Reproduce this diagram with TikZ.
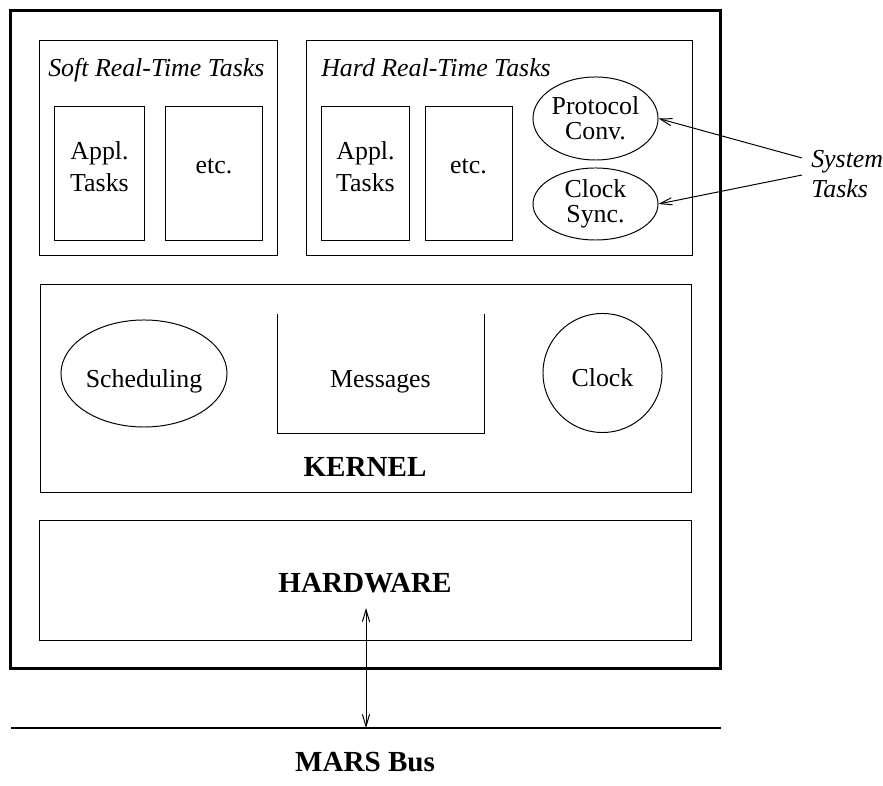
\documentclass[tikz,border=0pt]{standalone}
\usepackage{fontspec}
\setmainfont{Liberation Serif}
\usetikzlibrary{shapes.geometric,arrows.meta}
\begin{document}
\begin{tikzpicture}
                        [x=0.025cm, y=-0.025cm,
                        box/.style={draw, line width=0.7pt, inner sep=0pt},
                        oval/.style={draw, ellipse, line width=0.7pt, inner sep=0pt, align=center, font=\fontsize{18.4}{17.8}\selectfont},
                        txt/.style={inner sep=0pt, align=center, font=\fontsize{18.4}{22.8}\selectfont},
                        title/.style={inner sep=0pt, anchor=base west, font=\fontsize{18.4}{22}\selectfont\itshape},
                        bold/.style={inner sep=0pt, anchor=base, font=\fontsize{20.7}{24}\selectfont\bfseries},
                        arr/.style={-{Straight Barb[length=3mm,width=1.8mm]}, line width=0.7pt},
                        dblarr/.style={{Straight Barb[length=3mm,width=1.8mm]}-{Straight Barb[length=3mm,width=1.8mm]}, line width=0.7pt}]
                        \useasboundingbox (0,0) rectangle (883,786);
                        %Rahmen
                        \node [box, line width=2.1pt, minimum width=17.725cm, minimum height=16.425cm] (frame) at (365.5,339.5) {};
                        %Soft Real-Time Tasks
                        \node [box, minimum width=5.925cm, minimum height=5.35cm] (soft) at (158.5,148) {};
                        \node [title] (softtitle) at (48,77) {Soft Real-Time Tasks};
                        \node [box, minimum width=2.225cm, minimum height=3.325cm] (softappl) at (99.5,173.5) {};
                        \node [txt] (softappltxt) at (99.5,167) {Appl.\\Tasks};
                        \node [box, minimum width=2.4cm, minimum height=3.325cm] (softetc) at (214,173.5) {};
                        \node [txt, anchor=base] (softetctxt) at (214,174) {etc.};
                        %Hard Real-Time Tasks
                        \node [box, minimum width=9.625cm, minimum height=5.35cm] (hard) at (499.5,148) {};
                        \node [title] (hardtitle) at (321,77) {Hard Real-Time Tasks};
                        \node [box, minimum width=2.175cm, minimum height=3.325cm] (hardappl) at (365.5,173.5) {};
                        \node [txt] (hardappltxt) at (365.5,167) {Appl.\\Tasks};
                        \node [box, minimum width=2.175cm, minimum height=3.325cm] (hardetc) at (468.5,173.5) {};
                        \node [txt, anchor=base] (hardetctxt) at (468.5,174) {etc.};
                        \node [oval, minimum width=3.125cm, minimum height=2.075cm] (protocol) at (595.5,118.5) {Protocol\\Conv.};
                        \node [oval, minimum width=3.125cm, minimum height=1.8cm] (clocksync) at (595.5,204) {Clock\\Sync.};
                        %System Tasks
                        \node [txt, align=left, anchor=west, font=\fontsize{18.4}{21.5}\selectfont\itshape] (systasks) at (811,174) {System\\Tasks};
                        \coordinate (sys1) at (802,158);
                        \coordinate (sys2) at (802,175);
                        \draw [arr] (sys1) -- (protocol.east);
                        \draw [arr] (sys2) -- (clocksync.east);
                        %Kernel
                        \node [box, minimum width=16.25cm, minimum height=5.175cm] (kernel) at (366,388.5) {};
                        \node [box, ellipse, minimum width=4.15cm, minimum height=2.675cm] (scheduling) at (144,373.5) {};
                        \node [txt, anchor=base] (schedulingtxt) at (144,388) {Scheduling};
                        \draw [line width=0.7pt] (277,314) -- (277,433) -- (484,433) -- (484,314);
                        \node [txt, anchor=base] (messages) at (380.5,388) {Messages};
                        \node [box, circle, minimum size=2.975cm] (clock) at (602.5,373) {};
                        \node [txt, anchor=base] (clocktxt) at (602.5,387) {Clock};
                        \node [bold] (kerneltxt) at (365,477) {KERNEL};
                        %Hardware
                        \node [box, minimum width=16.275cm, minimum height=2.975cm] (hardware) at (365.5,580.5) {};
                        \node [bold] (hardwaretxt) at (365,593) {HARDWARE};
                        %Bus
                        \coordinate (busl) at (11,728);
                        \coordinate (busr) at (721,728);
                        \draw [line width=1.2pt] (busl) -- (busr);
                        \coordinate (hwport) at (366,608);
                        \coordinate (busport) at (366,728);
                        \draw [dblarr] (hwport) -- (busport);
                        \node [bold] (bus) at (365,772) {MARS Bus};
\end{tikzpicture}
\end{document}
